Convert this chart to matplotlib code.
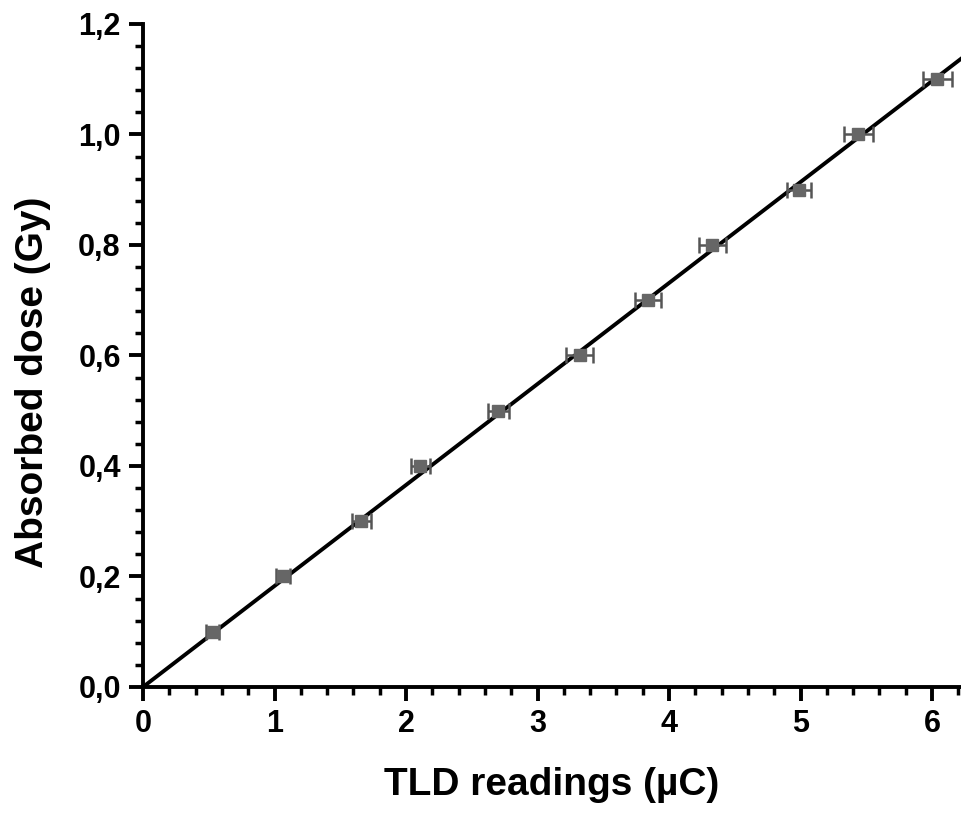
import numpy as np
import matplotlib.pyplot as plt
from matplotlib.ticker import MultipleLocator, FuncFormatter

# datos
lecturas_tld = [0.53, 1.065, 1.66, 2.11, 2.70, 3.32, 3.84, 4.33, 4.99, 5.44, 6.04]
error_tld = [0.05, 0.05, 0.07, 0.07, 0.08, 0.10, 0.10, 0.10, 0.09, 0.11, 0.11]
dosis = [0.1, 0.2, 0.3, 0.4, 0.5, 0.6, 0.7, 0.8, 0.9, 1.0, 1.1]

x = np.array(lecturas_tld)
y = np.array(dosis)
# ajuste lineal por el origen
pendiente = np.sum(x * y) / np.sum(x * x)

plt.rcParams['font.family'] = ['Liberation Sans', 'DejaVu Sans']

fig = plt.figure(figsize=(9.61, 8.13), dpi=100)
ax = fig.add_axes([0.1488, 0.155, 0.8512, 0.8155])

xmax = 6.22
xs = np.array([0, xmax])
ax.plot(xs, pendiente * xs, color='black', linewidth=2.8, zorder=2)
ax.errorbar(x, y, xerr=error_tld, fmt='s', color='#666666', markersize=8,
            ecolor='#555555', elinewidth=1.8, capsize=6, capthick=1.8, zorder=3)

ax.set_xlim(0, xmax)
ax.set_ylim(0, 1.2)
ax.spines['top'].set_visible(False)
ax.spines['right'].set_visible(False)
ax.spines['left'].set_linewidth(2.8)
ax.spines['bottom'].set_linewidth(2.8)
ax.spines['left'].set_zorder(4)
ax.spines['bottom'].set_zorder(4)

ax.xaxis.set_major_locator(MultipleLocator(1))
ax.xaxis.set_minor_locator(MultipleLocator(0.2))
ax.yaxis.set_major_locator(MultipleLocator(0.2))
ax.yaxis.set_minor_locator(MultipleLocator(0.04))
ax.yaxis.set_major_formatter(FuncFormatter(lambda v, p: f"{v:.1f}".replace('.', ',')))
ax.xaxis.set_major_formatter(FuncFormatter(lambda v, p: f"{v:.0f}"))

ax.tick_params(which='major', direction='out', length=10, width=2.8, labelsize=22, pad=6)
ax.tick_params(which='minor', direction='out', length=6, width=2.5)
for lbl in ax.get_xticklabels() + ax.get_yticklabels():
    lbl.set_fontweight('bold')

ax.set_xlabel('TLD readings (µC)', fontsize=28, fontweight='bold', labelpad=20)
ax.set_ylabel('Absorbed dose (Gy)', fontsize=28, fontweight='bold')
ax.yaxis.set_label_coords(-0.113, 0.46)

fig.savefig('out.png', dpi=100)
plt.close()
